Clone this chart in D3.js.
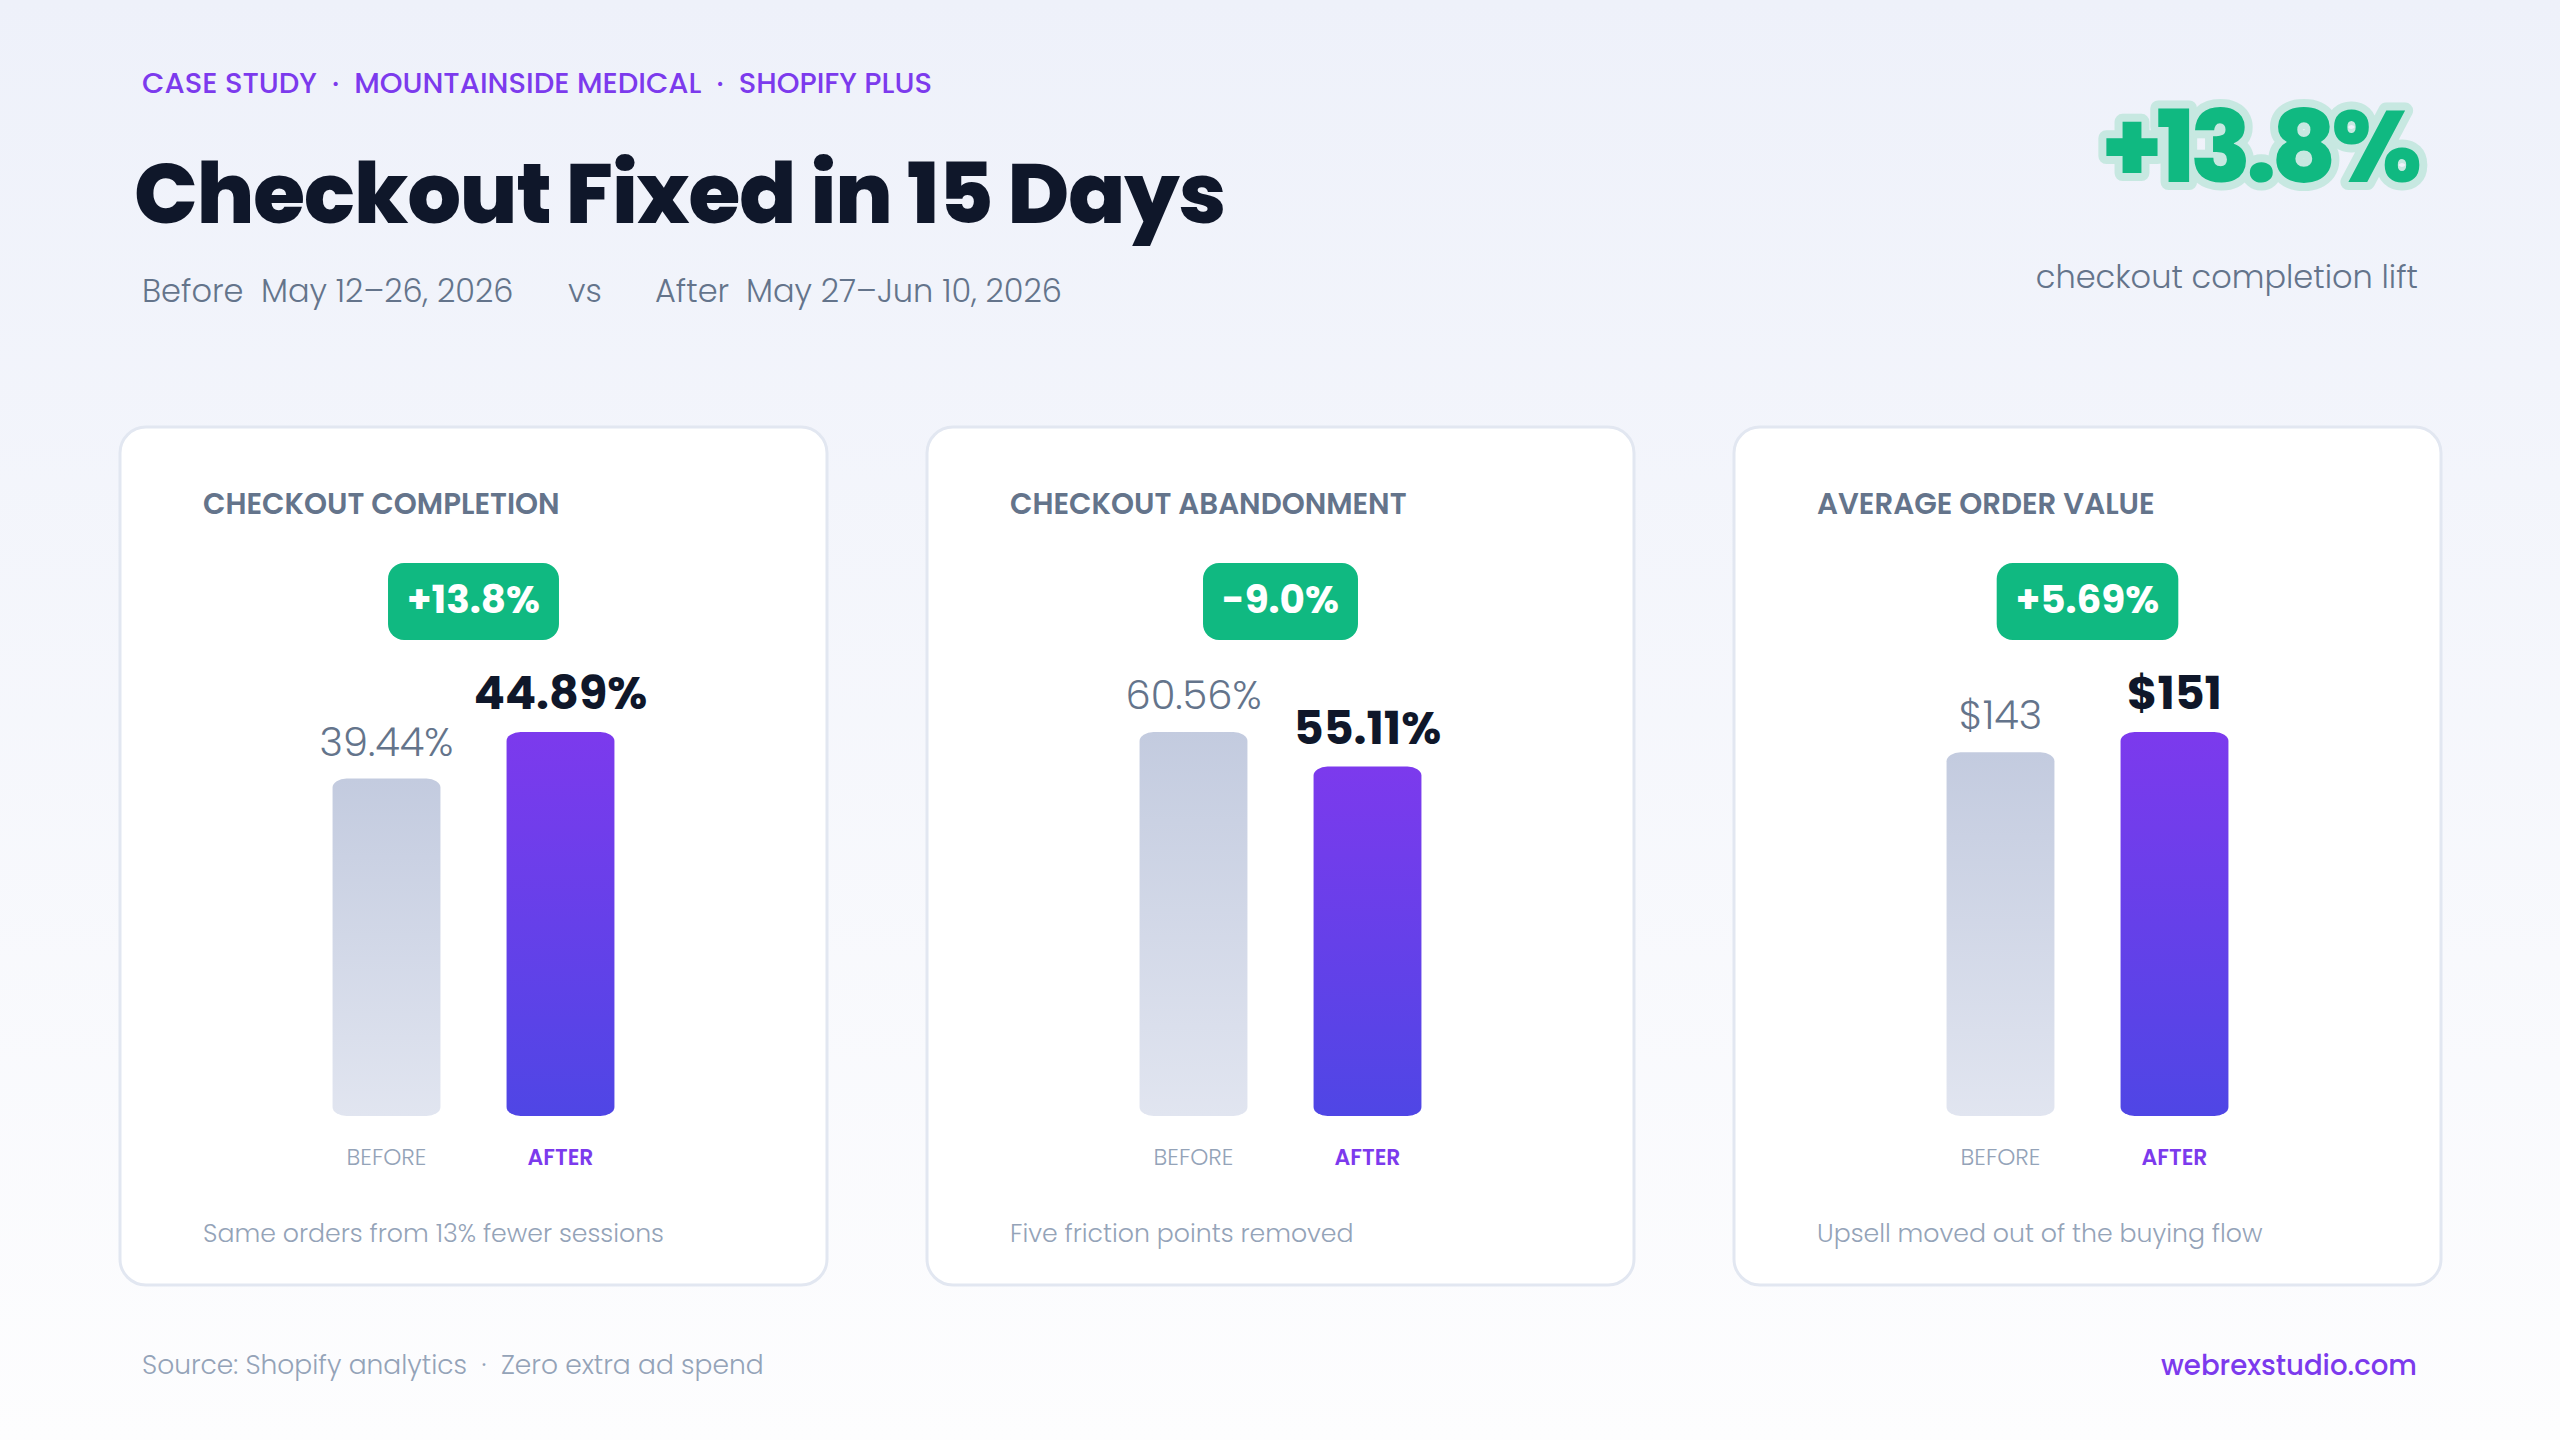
<!DOCTYPE html>
<html><head><meta charset="utf-8">
<script src="https://cdn.jsdelivr.net/npm/d3@7"></script>
<style>
html,body{margin:0;padding:0;background:#f6f7fc;}
svg{display:block;}
text{font-family:Poppins, Inter, "Noto Sans", sans-serif; white-space:pre;}
</style></head><body>
<svg id="chart" width="2560" height="1440"></svg>
<script>
// ---- data ----
const eyebrowParts = ["CASE STUDY", "MOUNTAINSIDE MEDICAL", "SHOPIFY PLUS"];
const titleText = "Checkout Fixed in 15 Days";
const periodLabels = ["Before", "After"];
const periodRanges = ["May 12–26, 2026", "May 27–Jun 10, 2026"];
const headlineValue = "+13.8%";
const headlineCaption = "checkout completion lift";
const metricNames = ["CHECKOUT COMPLETION", "CHECKOUT ABANDONMENT", "AVERAGE ORDER VALUE"];
const beforeValues = [39.44, 60.56, 143];
const afterValues = [44.89, 55.11, 151];
const beforeLabels = ["39.44%", "60.56%", "$143"];
const afterLabels = ["44.89%", "55.11%", "$151"];
const changeLabels = ["+13.8%", "-9.0%", "+5.69%"];
const cardNotes = ["Same orders from 13% fewer sessions", "Five friction points removed", "Upsell moved out of the buying flow"];
const barCategories = ["BEFORE", "AFTER"];
const footerSource = ["Source: Shopify analytics", "Zero extra ad spend"];
const footerSite = "webrexstudio.com";

// ---- setup ----
const W = 2560, H = 1440;
const svg = d3.select("#chart");
const defs = svg.append("defs");

const bg = defs.append("linearGradient").attr("id", "bg").attr("x1", 0).attr("y1", 0).attr("x2", 0).attr("y2", 1);
bg.append("stop").attr("offset", "0%").attr("stop-color", "#eef1fa");
bg.append("stop").attr("offset", "100%").attr("stop-color", "#fdfdfe");

const gBefore = defs.append("linearGradient").attr("id", "gBefore").attr("x1", 0).attr("y1", 0).attr("x2", 0).attr("y2", 1);
gBefore.append("stop").attr("offset", "0%").attr("stop-color", "#c3cbdf");
gBefore.append("stop").attr("offset", "100%").attr("stop-color", "#e1e5f0");
const gAfter = defs.append("linearGradient").attr("id", "gAfter").attr("x1", 0).attr("y1", 0).attr("x2", 0).attr("y2", 1);
gAfter.append("stop").attr("offset", "0%").attr("stop-color", "#7c3aed");
gAfter.append("stop").attr("offset", "100%").attr("stop-color", "#4f46e5");

svg.append("rect").attr("width", W).attr("height", H).attr("fill", "url(#bg)");

const slate500 = "#64748b", slate400 = "#94a3b8", ink = "#0f172a", violet = "#7c3aed", green = "#10b981";

// ---- header ----
const eb = svg.append("text").attr("x", 142).attr("y", 93)
  .attr("font-size", 29).attr("font-weight", 500).attr("fill", violet);
eyebrowParts.forEach((p, i) => {
  if (i > 0) eb.append("tspan").text("  ·  ");
  eb.append("tspan").text(p);
});

svg.append("text").attr("x", 134).attr("y", 223)
  .attr("font-size", 84).attr("font-weight", 800).attr("fill", ink)
  .attr("letter-spacing", -1).text(titleText);

const sub = svg.append("text").attr("y", 302).attr("font-size", 32).attr("font-weight", 300).attr("fill", slate500);
sub.append("tspan").attr("x", 142).text(periodLabels[0]);
sub.append("tspan").attr("x", 261).text(periodRanges[0]);
sub.append("tspan").attr("x", 568).text("vs");
sub.append("tspan").attr("x", 655).text(periodLabels[1]);
sub.append("tspan").attr("x", 746).text(periodRanges[1]);

// headline with halo
svg.append("text").attr("x", 2417).attr("y", 182).attr("text-anchor", "end")
  .attr("font-size", 100).attr("font-weight", 800).attr("letter-spacing", -5)
  .attr("fill", "#c7e8e1").attr("stroke", "#c7e8e1").attr("stroke-width", 16)
  .attr("stroke-linejoin", "round").text(headlineValue);
svg.append("text").attr("x", 2417).attr("y", 182).attr("text-anchor", "end")
  .attr("font-size", 100).attr("font-weight", 800).attr("letter-spacing", -5)
  .attr("fill", green).text(headlineValue);
svg.append("text").attr("x", 2418).attr("y", 288).attr("text-anchor", "end")
  .attr("font-size", 32).attr("font-weight", 300).attr("fill", slate500).text(headlineCaption);

// ---- cards ----
const cardW = 707, cardH = 858, cardY = 427, cardGap = 100, cardX0 = 120;
const barTopLimit = 732, barBottom = 1116;

metricNames.forEach((name, i) => {
  const x0 = cardX0 + i * (cardW + cardGap);
  const cx = x0 + cardW / 2;
  const g = svg.append("g");
  g.append("rect").attr("x", x0).attr("y", cardY).attr("width", cardW).attr("height", cardH)
    .attr("rx", 26).attr("fill", "#ffffff").attr("stroke", "#e2e7f1").attr("stroke-width", 3);

  g.append("text").attr("x", x0 + 83).attr("y", 514).attr("font-size", 29.3).attr("font-weight", 600)
    .attr("fill", slate500).text(name);

  // badge
  const bt = g.append("text").attr("x", cx).attr("y", 613).attr("text-anchor", "middle")
    .attr("font-size", 39).attr("font-weight", 700).attr("fill", "#ffffff").text(changeLabels[i]);
  const tw = bt.node().getComputedTextLength();
  g.insert("rect", "text:last-child").attr("x", cx - tw / 2 - 19).attr("y", 563)
    .attr("width", tw + 38).attr("height", 77).attr("rx", 16).attr("fill", green);

  // scales
  const vals = [beforeValues[i], afterValues[i]];
  const x = d3.scaleBand().domain(barCategories).range([cx - 174, cx + 174]).paddingInner(0.38).paddingOuter(0.19);
  const y = d3.scaleLinear().domain([0, d3.max(vals)]).range([barBottom, barTopLimit]);

  const data = barCategories.map((c, j) => ({cat: c, v: vals[j], label: j === 0 ? beforeLabels[i] : afterLabels[i]}));

  g.selectAll("rect.bar").data(data).enter().append("rect").attr("class", "bar")
    .attr("x", d => x(d.cat)).attr("y", d => y(d.v))
    .attr("width", x.bandwidth()).attr("height", d => y(0) - y(d.v))
    .attr("rx", 14).attr("ry", 9)
    .attr("fill", (d, j) => j === 0 ? "url(#gBefore)" : "url(#gAfter)");

  g.selectAll("text.val").data(data).enter().append("text").attr("class", "val")
    .attr("x", d => x(d.cat) + x.bandwidth() / 2).attr("y", d => y(d.v) - 23)
    .attr("text-anchor", "middle")
    .attr("font-size", (d, j) => j === 0 ? 40 : 46)
    .attr("font-weight", (d, j) => j === 0 ? 300 : 700)
    .attr("fill", (d, j) => j === 0 ? slate500 : ink)
    .text(d => d.label);

  g.selectAll("text.cat").data(data).enter().append("text").attr("class", "cat")
    .attr("x", d => x(d.cat) + x.bandwidth() / 2).attr("y", 1165)
    .attr("text-anchor", "middle").attr("font-size", (d, j) => j === 0 ? 23 : 22)
    .attr("font-weight", (d, j) => j === 0 ? 300 : 600)
    .attr("fill", (d, j) => j === 0 ? slate400 : violet)
    .text(d => d.cat);

  g.append("text").attr("x", x0 + 83).attr("y", 1242).attr("font-size", 25.2).attr("font-weight", 300)
    .attr("fill", slate400).text(cardNotes[i]);
});

// ---- footer ----
const ft = svg.append("text").attr("x", 142).attr("y", 1374).attr("font-size", 26.5).attr("font-weight", 300).attr("fill", slate400);
ft.append("tspan").text(footerSource[0]);
ft.append("tspan").text("  ·  ");
ft.append("tspan").text(footerSource[1]);
svg.append("text").attr("x", 2417).attr("y", 1375).attr("text-anchor", "end").attr("font-size", 27.6)
  .attr("font-weight", 500).attr("fill", violet).text(footerSite);
</script>
</body></html>
